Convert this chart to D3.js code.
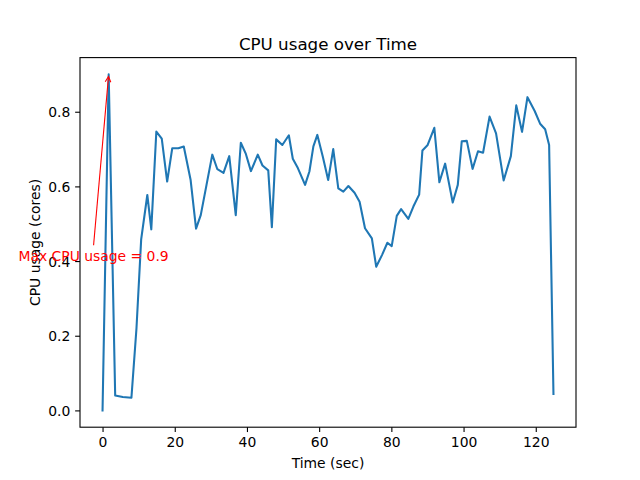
<!DOCTYPE html>
<html>
<head>
<meta charset="utf-8">
<script src="https://cdn.jsdelivr.net/npm/d3@7"></script>
<style>
  html, body { margin: 0; padding: 0; background: #fff; }
  svg { display: block; font-family: "DejaVu Sans", sans-serif; }
</style>
</head>
<body>
<svg id="chart" width="640" height="480"></svg>
<script>
const timeSec = [0, 1.7, 3.5, 5.6, 8.0, 9.4, 10.7, 12.4, 13.5, 14.9, 16.4, 17.9, 19.3, 21.0, 22.5, 24.4, 25.9, 27.2, 28.8, 30.4, 31.8, 33.5, 35.1, 36.9, 38.3, 39.7, 41.1, 43.0, 44.3, 45.9, 46.9, 48.1, 49.8, 51.6, 52.7, 54.1, 56.1, 57.3, 58.4, 59.5, 61.0, 62.5, 63.9, 65.3, 66.7, 68.1, 69.8, 71.2, 72.7, 74.6, 75.8, 77.4, 78.9, 80.1, 81.5, 82.7, 84.7, 86.1, 87.7, 88.6, 90.0, 91.9, 93.3, 94.9, 97.0, 98.4, 99.5, 100.9, 102.5, 104.0, 105.4, 107.2, 109.0, 111.1, 113.1, 114.6, 116.2, 117.7, 119.7, 121.2, 122.6, 123.7, 124.9];
const cpuUsage = [0, 0.90, 0.04, 0.036, 0.034, 0.22, 0.458, 0.577, 0.485, 0.747, 0.728, 0.613, 0.702, 0.702, 0.707, 0.617, 0.487, 0.523, 0.604, 0.685, 0.646, 0.636, 0.681, 0.523, 0.717, 0.687, 0.641, 0.685, 0.656, 0.643, 0.491, 0.726, 0.711, 0.737, 0.674, 0.649, 0.604, 0.640, 0.707, 0.738, 0.680, 0.617, 0.700, 0.595, 0.586, 0.601, 0.583, 0.559, 0.488, 0.461, 0.385, 0.416, 0.449, 0.440, 0.521, 0.539, 0.513, 0.546, 0.578, 0.696, 0.710, 0.757, 0.611, 0.661, 0.557, 0.604, 0.721, 0.722, 0.647, 0.694, 0.690, 0.787, 0.742, 0.616, 0.681, 0.817, 0.746, 0.839, 0.802, 0.768, 0.753, 0.711, 0.044];
const xTicks = [0, 20, 40, 60, 80, 100, 120];
const yTicks = [0.0, 0.2, 0.4, 0.6, 0.8];
const titleText = "CPU usage over Time";
const xLabelText = "Time (sec)";
const yLabelText = "CPU usage (cores)";

const svg = d3.select("#chart");
const mLeft = 80, mRight = 576, mTop = 57.6, mBottom = 427.2;

const xMin = d3.min(timeSec), xMax = d3.max(timeSec);
const yMin = d3.min(cpuUsage), yMax = d3.max(cpuUsage);
const xPad = (xMax - xMin) * 0.05, yPad = (yMax - yMin) * 0.05;
const x = d3.scaleLinear().domain([xMin - xPad, xMax + xPad]).range([mLeft, mRight]);
const y = d3.scaleLinear().domain([yMin - yPad, yMax + yPad]).range([mBottom, mTop]);

const data = timeSec.map((t, i) => ({t, v: cpuUsage[i]}));

// line
svg.append("path")
  .datum(data)
  .attr("fill", "none")
  .attr("stroke", "#1f77b4")
  .attr("stroke-width", 2.08)
  .attr("stroke-linejoin", "round")
  .attr("stroke-linecap", "square")
  .attr("d", d3.line().x(d => x(d.t)).y(d => y(d.v)));

// axes
const xAxis = d3.axisBottom(x).tickValues(xTicks).tickFormat(d3.format("d")).tickSizeOuter(0).tickSizeInner(4.86).tickPadding(4.86);
const yAxis = d3.axisLeft(y).tickValues(yTicks).tickFormat(d3.format(".1f")).tickSizeOuter(0).tickSizeInner(4.86).tickPadding(4.86);

const gx = svg.append("g").attr("transform", `translate(0,${mBottom})`).call(xAxis);
const gy = svg.append("g").attr("transform", `translate(${mLeft},0)`).call(yAxis);
[gx, gy].forEach(g => {
  g.select(".domain").remove();
  g.selectAll(".tick line").attr("stroke", "#000").attr("stroke-width", 1.1);
  g.selectAll(".tick text").attr("fill", "#000").attr("font-size", 13.9).attr("font-family", "DejaVu Sans");
});
gx.selectAll(".tick text").attr("dy", null).attr("y", 19.5);
gy.selectAll(".tick text").attr("dy", "0.36em");

// spines
svg.append("rect")
  .attr("x", mLeft).attr("y", mTop)
  .attr("width", mRight - mLeft).attr("height", mBottom - mTop)
  .attr("fill", "none").attr("stroke", "#000").attr("stroke-width", 1.1);

// title and labels
svg.append("text").attr("x", (mLeft + mRight) / 2).attr("y", 49.5)
  .attr("text-anchor", "middle").attr("font-size", 16.7).attr("fill", "#000").text(titleText);
svg.append("text").attr("x", (mLeft + mRight) / 2).attr("y", 468)
  .attr("text-anchor", "middle").attr("font-size", 13.9).attr("fill", "#000").text(xLabelText);
svg.append("text").attr("transform", `translate(39.5,${(mTop + mBottom) / 2}) rotate(-90)`)
  .attr("text-anchor", "middle").attr("font-size", 13.9).attr("fill", "#000").text(yLabelText);

// annotation
const peakIdx = d3.maxIndex(cpuUsage);
const peakT = timeSec[peakIdx], peakV = cpuUsage[peakIdx];
const ann = svg.append("text")
  .attr("x", x(peakT - 25)).attr("y", y(0.4))
  .attr("font-size", 13.9).attr("fill", "red")
  .text(`Max CPU usage = ${peakV}`);
const bb = ann.node().getBBox();
const sx = bb.x + bb.width / 2, sy = bb.y - 2.8;
const ex = x(peakT), ey = y(peakV);
const ang = Math.atan2(ey - sy, ex - sx);
const tx = ex - 2.0 * Math.cos(ang), ty = ey - 2.0 * Math.sin(ang);
svg.append("line").attr("x1", sx).attr("y1", sy).attr("x2", tx).attr("y2", ty)
  .attr("stroke", "red").attr("stroke-width", 1.1);
const hl = 5.6, hw = 2.8;
const bx = tx - hl * Math.cos(ang), by = ty - hl * Math.sin(ang);
const px = -Math.sin(ang), py = Math.cos(ang);
svg.append("path")
  .attr("d", `M${bx + hw * px},${by + hw * py}L${tx},${ty}L${bx - hw * px},${by - hw * py}`)
  .attr("fill", "none").attr("stroke", "red").attr("stroke-width", 1.1);
</script>
</body>
</html>
